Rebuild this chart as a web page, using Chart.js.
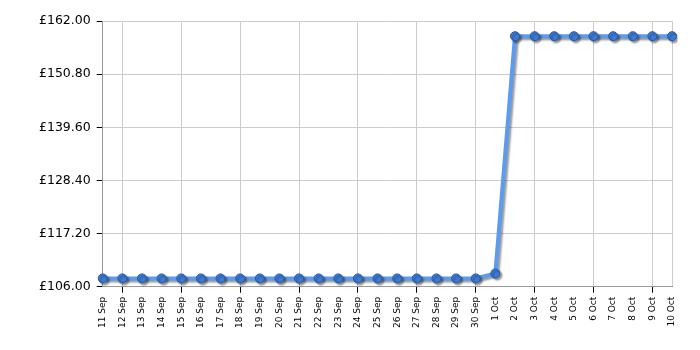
<!DOCTYPE html>
<html>
<head>
<meta charset="utf-8">
<script src="https://cdn.jsdelivr.net/npm/chart.js@4/dist/chart.umd.min.js"></script>
<style>
  html, body { margin: 0; padding: 0; background: #fff; }
  #wrap { width: 700px; height: 350px; }
</style>
</head>
<body>
<div id="wrap"><canvas id="priceChart"></canvas></div>
<script>
'use strict';

const dates = [
    '11 Sep', '12 Sep', '13 Sep', '14 Sep', '15 Sep', '16 Sep', '17 Sep', '18 Sep', '19 Sep', '20 Sep',
    '21 Sep', '22 Sep', '23 Sep', '24 Sep', '25 Sep', '26 Sep', '27 Sep', '28 Sep', '29 Sep', '30 Sep',
    '1 Oct', '2 Oct', '3 Oct', '4 Oct', '5 Oct', '6 Oct', '7 Oct', '8 Oct', '9 Oct', '10 Oct'
];
const prices = [
    107.75, 107.75, 107.75, 107.75, 107.75, 107.75, 107.75, 107.75, 107.75, 107.75,
    107.75, 107.75, 107.75, 107.75, 107.75, 107.75, 107.75, 107.75, 107.75, 107.75,
    108.8, 158.8, 158.8, 158.8, 158.8, 158.8, 158.8, 158.8, 158.8, 158.8
];
const yMin = 106, yMax = 162, yStep = 11.2;

const FONT = 'DejaVu Sans, Verdana, sans-serif';
const GRID = '#cccccc';
const AXIS = '#999999';

// drop shadow under the line and markers
const shadowPlugin = {
    id: 'lineShadow',
    beforeDatasetDraw(chart) {
        const ctx = chart.ctx;
        ctx.save();
        ctx.shadowColor = 'rgba(0,0,0,0.4)';
        ctx.shadowOffsetX = 2;
        ctx.shadowOffsetY = 2;
        ctx.shadowBlur = 2;
    },
    afterDatasetDraw(chart) {
        chart.ctx.restore();
    }
};

new Chart(document.getElementById('priceChart'), {
    type: 'line',
    data: {
        labels: dates,
        datasets: [{
            data: prices,
            borderColor: '#5b9bf0',
            borderWidth: 4,
            tension: 0,
            pointRadius: 4.5,
            pointBackgroundColor: '#3b7ad6',
            pointBorderColor: '#2a5aa0',
            pointBorderWidth: 1,
        }]
    },
    options: {
        responsive: true,
        maintainAspectRatio: false,
        animation: false,
        layout: { padding: { left: 33, right: 28, top: 21, bottom: 18 } },
        plugins: { legend: { display: false }, tooltip: { enabled: false } },
        scales: {
            x: {
                offset: false,
                border: { color: AXIS },
                grid: {
                    color: c => (c.index % 3 === 1 || c.index === dates.length - 1) ? GRID : 'rgba(0,0,0,0)',
                    tickColor: c => (c.index % 3 === 1) ? '#000' : 'rgba(0,0,0,0)',
                    tickLength: 6,
                },
                ticks: {
                    autoSkip: false,
                    maxRotation: 90,
                    minRotation: 90,
                    padding: 4,
                    color: '#000',
                    font: { family: FONT, size: 9 },
                }
            },
            y: {
                min: yMin,
                max: yMax,
                border: { color: AXIS },
                grid: { color: GRID, tickColor: '#000', tickLength: 6 },
                ticks: {
                    stepSize: yStep,
                    padding: 6,
                    color: '#000',
                    font: { family: FONT, size: 12.5 },
                    callback: v => '£' + Number(v).toFixed(2)
                }
            }
        }
    },
    plugins: [shadowPlugin]
});
</script>
</body>
</html>
